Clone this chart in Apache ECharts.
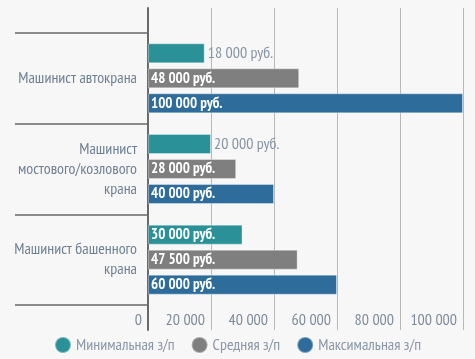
<!DOCTYPE html>
<html>
<head>
<meta charset="utf-8">
<script src="https://cdn.jsdelivr.net/npm/echarts@6/dist/echarts.min.js"></script>
<style>
html,body{margin:0;padding:0;background:#f7f7f7;}
#chart{width:475px;height:359px;}
</style>
</head>
<body>
<div id="chart"></div>
<script>
var categories = ['Машинист автокрана', 'Машинист\nмостового/козлового\nкрана', 'Машинист башенного\nкрана'];
var seriesNames = ['Минимальная з/п', 'Средняя з/п', 'Максимальная з/п'];
var minValues = [18000, 20000, 30000];
var avgValues = [48000, 28000, 47500];
var maxValues = [100000, 40000, 60000];
var xTicks = [0, 20000, 40000, 60000, 80000, 100000];
var colors = ['#2b9199', '#7f7f7f', '#2e6c9b'];

var FONT = "'PT Sans Narrow', 'Roboto Condensed', sans-serif";
function fmt(v){ return String(v).replace(/\B(?=(\d{3})+(?!\d))/g, ' '); }
var OUTSIDE_LIMIT = 25000;

function makeData(arr){
  return arr.map(function(v){
    if (v < OUTSIDE_LIMIT) {
      return {value: v, label: {position: 'right', distance: 3, color: '#8494a6', fontWeight: 'normal', fontSize: 16}};
    }
    return v;
  });
}

var chart = echarts.init(document.getElementById('chart'));
var series = [minValues, avgValues, maxValues].map(function(arr, i){
  return {
    name: seriesNames[i],
    type: 'bar',
    xAxisIndex: 0,
    yAxisIndex: 0,
    barWidth: 20,
    barGap: '25%',
    data: makeData(arr),
    itemStyle: {color: colors[i], borderColor: 'rgba(255,255,255,0.35)', borderWidth: 1},
    label: {
      show: true,
      position: 'insideLeft',
      distance: 3,
      color: '#ffffff',
      fontWeight: 'bold',
      fontFamily: FONT,
      fontSize: 15,
      formatter: function(p){ return fmt(p.value) + ' руб.'; }
    },
    z: 3
  };
});

chart.setOption({
  backgroundColor: '#f7f7f7',
  animation: false,
  color: colors,
  textStyle: {fontFamily: FONT},
  legend: {
    bottom: 0,
    left: 'center',
    icon: 'circle',
    itemWidth: 16,
    itemHeight: 16,
    itemGap: 16,
    textStyle: {color: '#8a97a8', fontSize: 16, fontFamily: FONT},
    data: seriesNames
  },
  grid: [
    {left: 148, right: 12, top: 33, bottom: 54, outerBoundsMode: 'none'},
    {left: 148, right: 12, top: 8, bottom: 29, outerBoundsMode: 'none'}
  ],
  xAxis: [
    {gridIndex: 0, type: 'value', min: 0, max: 100000, show: false},
    {gridIndex: 1, type: 'value', min: 0, max: 100000, interval: 20000,
     axisLine: {show: false}, axisTick: {show: false},
     splitLine: {show: true, lineStyle: {color: '#b8b8b8', width: 1}},
     axisLabel: {inside: true, margin: 2, align: 'right', padding: [0, 6, 0, 0],
       color: '#7d8b9c', fontSize: 16, fontFamily: FONT,
       formatter: function(v){ return fmt(v); }}
    }
  ],
  yAxis: [
    {gridIndex: 0, type: 'category', inverse: true, data: categories,
     axisLine: {show: false},
     axisTick: {show: true, length: 133, lineStyle: {color: '#6a6a6a', width: 1.5}},
     axisLabel: {margin: 11, color: '#6f8094', fontSize: 16, lineHeight: 20, fontFamily: FONT, align: 'right'},
     splitLine: {show: false}
    },
    {gridIndex: 1, type: 'value', min: 0, max: 1,
     axisLine: {show: true, lineStyle: {color: '#6a6a6a', width: 2}},
     axisTick: {show: false}, axisLabel: {show: false}, splitLine: {show: false}
    }
  ],
  series: series
});
</script>
</body>
</html>
